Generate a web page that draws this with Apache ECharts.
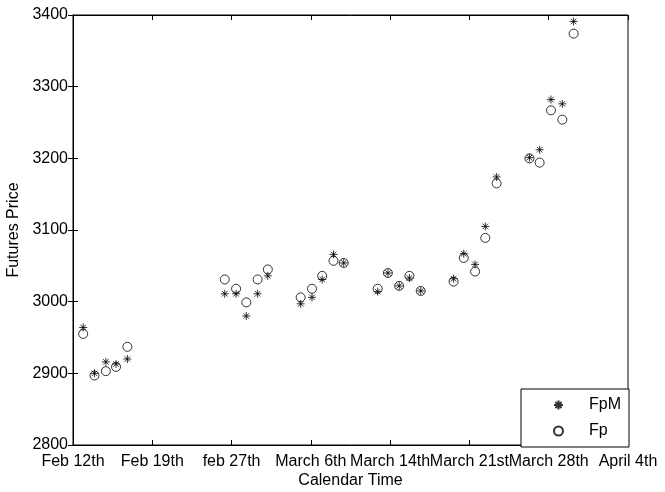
<!DOCTYPE html>
<html>
<head>
<meta charset="utf-8">
<script src="https://cdn.jsdelivr.net/npm/echarts@6/dist/echarts.min.js"></script>
<style>
  html, body { margin: 0; padding: 0; background: #fff; }
  #wrap { width: 665px; height: 492px; }
</style>
</head>
<body>
<div id="wrap"></div>
<script>
// x tick labels, one per week from Feb 12th
var tickLabels = ["Feb 12th", "Feb 19th", "feb 27th", "March 6th", "March 14th", "March 21st", "March 28th", "April 4th"];

// days since Feb 12th
var days = [0.9, 1.9, 2.9, 3.8, 4.8,
            13.4, 14.4, 15.3, 16.3, 17.2,
            20.1, 21.1, 22.0, 23.0, 23.9,
            26.9, 27.8, 28.8, 29.7, 30.7,
            33.6, 34.5, 35.5, 36.4, 37.4,
            40.3, 41.2, 42.2, 43.2, 44.2];

var fpm = [2964, 2900, 2916, 2913, 2920,
           3011, 3011, 2980, 3011, 3036,
           2997, 3006, 3031, 3066, 3054,
           3014, 3040, 3022, 3033, 3015,
           3032, 3067, 3052, 3105, 3174,
           3201, 3212, 3282, 3276, 3391];

var fp = [2955, 2897, 2903, 2909, 2937,
          3031, 3018, 2999, 3031, 3045,
          3006, 3018, 3036, 3057, 3054,
          3018, 3040, 3022, 3036, 3015,
          3028, 3061, 3042, 3089, 3165,
          3200, 3194, 3267, 3254, 3374];

function pairs(xs, ys) {
  return xs.map(function (x, i) { return [x, ys[i]]; });
}

var font = "'Liberation Sans', Arial, Helvetica, sans-serif";
var star = "path://M5,0L5,10M0,5L10,5M1.6,1.6L8.4,8.4M1.6,8.4L8.4,1.6";

var chart = echarts.init(document.getElementById("wrap"));

var option = {
  animation: false,
  backgroundColor: "#fff",
  grid: {
    left: 73, right: 37, top: 15, bottom: 47,
    outerBoundsMode: "none",
    show: true, borderColor: "#000", borderWidth: 1
  },
  legend: {
    orient: "vertical",
    left: 521, top: 389,
    padding: [8, 8, 8, 32],
    itemGap: 10,
    itemWidth: 9, itemHeight: 9,
    borderColor: "#000", borderWidth: 1, borderRadius: 0,
    backgroundColor: "#fff",
    textStyle: { fontFamily: font, fontSize: 16, color: "#000", padding: [0, 0, 0, 21] },
    data: ["FpM", "Fp"]
  },
  xAxis: [{
    type: "value", min: 0, max: 49, interval: 7,
    name: "Calendar Time", nameLocation: "middle", nameGap: 28,
    nameMoveOverlap: false,
    nameTextStyle: { fontFamily: font, fontSize: 16, color: "#000" },
    axisLine: { show: true, lineStyle: { color: "#000" } },
    axisTick: { inside: true, length: 5, lineStyle: { color: "#000" } },
    splitLine: { show: false },
    axisLabel: {
      fontFamily: font, fontSize: 16, color: "#000", margin: 9,
      showMinLabel: true, showMaxLabel: true,
      formatter: function (v) { return tickLabels[Math.round(v / 7)]; }
    }
  }, {
    type: "value", min: 0, max: 49, interval: 7, position: "top",
    axisLine: { show: true, lineStyle: { color: "#000" } },
    axisTick: { inside: true, length: 5, lineStyle: { color: "#000" } },
    axisLabel: { show: false }, splitLine: { show: false }
  }],
  yAxis: [{
    type: "value", min: 2800, max: 3400, interval: 100,
    name: "Futures Price", nameLocation: "middle", nameGap: 47,
    nameTextStyle: { fontFamily: font, fontSize: 16, color: "#000" },
    axisLine: { show: true, lineStyle: { color: "#000" } },
    axisTick: { inside: true, length: 5, lineStyle: { color: "#000" } },
    splitLine: { show: false },
    axisLabel: {
      fontFamily: font, fontSize: 16, color: "#000", margin: 5,
      formatter: function (v) { return String(v); }
    }
  }, {
    type: "value", min: 2800, max: 3400, interval: 100, position: "right",
    axisLine: { show: true, lineStyle: { color: "#000" } },
    axisTick: { inside: true, length: 5, lineStyle: { color: "#000" } },
    axisLabel: { show: false }, splitLine: { show: false }
  }],
  series: [{
    name: "FpM", type: "scatter",
    symbol: star, symbolSize: 8,
    itemStyle: { color: "rgba(0,0,0,0)", borderColor: "#000", borderWidth: 1 },
    data: pairs(days, fpm)
  }, {
    name: "Fp", type: "scatter",
    symbol: "circle", symbolSize: 9,
    itemStyle: { color: "rgba(0,0,0,0)", borderColor: "#000", borderWidth: 1 },
    data: pairs(days, fp)
  }]
};

chart.setOption(option);
</script>
</body>
</html>
